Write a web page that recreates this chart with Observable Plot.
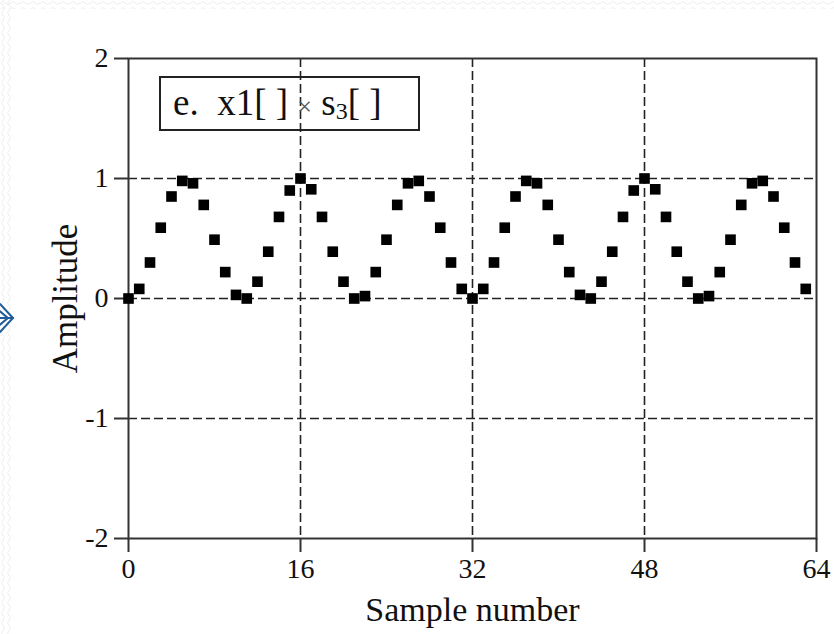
<!DOCTYPE html>
<html>
<head>
<meta charset="utf-8">
<script src="https://cdn.jsdelivr.net/npm/d3@7"></script>
<script src="https://cdn.jsdelivr.net/npm/@observablehq/plot@0.6"></script>
<style>
  html, body { margin: 0; padding: 0; background: #fff; }
  #wrap { position: relative; width: 834px; height: 634px; overflow: hidden; }
  #deco { position: absolute; left: 0; top: 0; }
  #legend {
    position: absolute; left: 159px; top: 76px; width: 257px; height: 51px;
    border: 2px solid #222; font-family: "Liberation Serif", serif; font-size: 37px;
    color: #111; box-sizing: content-box;
  }
  #legend span.t { position: absolute; left: 12px; top: 4px; white-space: pre; line-height: 42px; }
  #legend sub { font-size: 24px; position: relative; top: 4px; vertical-align: baseline; line-height: 0; }
  #legend .x { font-size: 26px; color: #555; }
</style>
</head>
<body>
<div id="wrap">
  <div id="chart"></div>
  <div id="legend"><span class="t">e.  x1[ ] <span class="x">×</span> s<sub>3</sub>[ ]</span></div>
  <svg id="deco" width="834" height="634">
    <defs>
      <pattern id="wv" width="10" height="6" patternUnits="userSpaceOnUse">
        <path d="M0,4 Q2.5,0 5,3 T10,3" fill="none" stroke="#ececec" stroke-width="1"/>
      </pattern>
      <pattern id="wvv" width="6" height="10" patternUnits="userSpaceOnUse">
        <path d="M4,0 Q0,2.5 3,5 T3,10" fill="none" stroke="#ececec" stroke-width="1"/>
      </pattern>
    </defs>
    <rect x="0" y="0" width="834" height="9" fill="url(#wv)"/>
    <rect x="0" y="0" width="12" height="634" fill="url(#wvv)"/>
    <g stroke="#1f5c99" stroke-width="2" fill="none" stroke-linecap="round">
      <path d="M0,304 L13,318 L0,332"/>
      <path d="M-4,308 L8,318 L-4,328"/>
      <path d="M0,318 L13,318"/>
    </g>
  </svg>
</div>
<script>
// Sample numbers (x) and amplitude values
const sampleNumber = [
  0,1,2,3,4,5,6,7,8,9,10,11,12,13,14,15,
  16,17,18,19,20,21,22,23,24,25,26,27,28,29,30,31,
  32,33,34,35,36,37,38,39,40,41,42,43,44,45,46,47,
  48,49,50,51,52,53,54,55,56,57,58,59,60,61,62,63
];
const amplitude = [
  0.00, 0.08, 0.30, 0.59, 0.85, 0.98, 0.96, 0.78, 0.49, 0.22, 0.03, 0.00, 0.14, 0.39, 0.68, 0.90,
  1.00, 0.91, 0.68, 0.39, 0.14, 0.00, 0.02, 0.22, 0.49, 0.78, 0.96, 0.98, 0.85, 0.59, 0.30, 0.08,
  0.00, 0.08, 0.30, 0.59, 0.85, 0.98, 0.96, 0.78, 0.49, 0.22, 0.03, 0.00, 0.14, 0.39, 0.68, 0.90,
  1.00, 0.91, 0.68, 0.39, 0.14, 0.00, 0.02, 0.22, 0.49, 0.78, 0.96, 0.98, 0.85, 0.59, 0.30, 0.08
];
const xTicks = [0, 16, 32, 48, 64];
const yTicks = [-2, -1, 0, 1, 2];
const xGrid = [16, 32, 48];
const yGrid = [-1, 0, 1];
const xLabel = "Sample number";
const yLabel = "Amplitude";

const data = sampleNumber.map((n, i) => ({n, v: amplitude[i]}));

const chart = Plot.plot({
  width: 834,
  height: 634,
  marginLeft: 128,
  marginRight: 18,
  marginTop: 58,
  marginBottom: 96,
  style: {fontFamily: "'Liberation Serif', serif", fontSize: "28px", color: "#111", background: "transparent"},
  x: {domain: [0, 64]},
  y: {domain: [-2, 2]},
  marks: [
    Plot.ruleX(xGrid, {stroke: "#222", strokeWidth: 1.6, strokeDasharray: "9,4"}),
    Plot.ruleY(yGrid, {stroke: "#222", strokeWidth: 1.6, strokeDasharray: "9,4"}),
    Plot.frame({stroke: "#333", strokeWidth: 2}),
    Plot.axisX({ticks: xTicks, tickFormat: d => String(d), tickSize: 14, tickPadding: 6, strokeWidth: 2, stroke: "#333", label: null, fontSize: 28}),
    Plot.axisY({ticks: yTicks, tickFormat: d => String(d), tickSize: 14, tickPadding: 6, strokeWidth: 2, stroke: "#333", label: null, fontSize: 28}),
    Plot.dot(data, {x: "n", y: "v", symbol: "square", r: 6, fill: "#000", stroke: "none"}),
    Plot.text([xLabel], {frameAnchor: "bottom", lineAnchor: "middle", textAnchor: "middle", dy: 72, fontSize: 34, fill: "#111"}),
    Plot.text([yLabel], {frameAnchor: "left", lineAnchor: "middle", textAnchor: "middle", dx: -63, rotate: -90, fontSize: 35, fill: "#111"})
  ]
});
document.getElementById("chart").appendChild(chart);
</script>
</body>
</html>
